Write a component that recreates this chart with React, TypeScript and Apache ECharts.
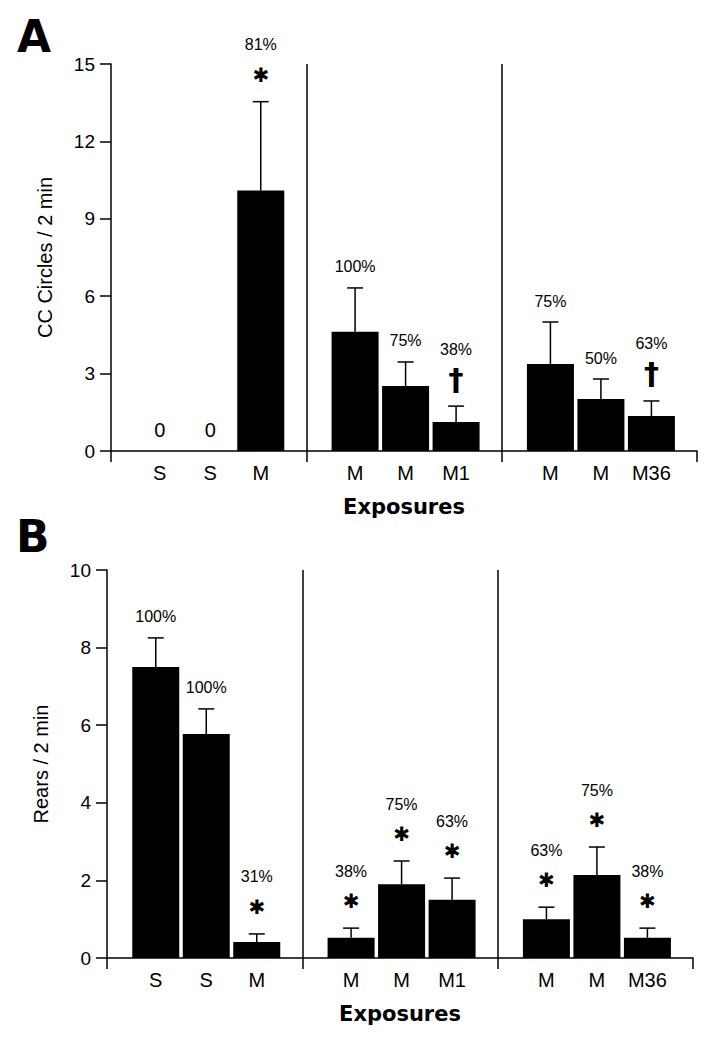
import React, { useEffect, useRef } from "react";
import * as echarts from "echarts";

// ---------- data ----------
const groupCategories: string[][] = [
  ["S", "S", "M"],
  ["M", "M", "M1"],
  ["M", "M", "M36"],
];

// Panel A: CC Circles / 2 min
const circlesMean: number[][] = [
  [0, 0, 10.1],
  [4.62, 2.52, 1.12],
  [3.37, 2.02, 1.36],
];
const circlesErrTop: (number | null)[][] = [
  [null, null, 13.54],
  [6.32, 3.45, 1.74],
  [5.0, 2.79, 1.94],
];
const circlesPct: string[][] = [
  ["0", "0", "81%"],
  ["100%", "75%", "38%"],
  ["75%", "50%", "63%"],
];
const circlesMark: string[][] = [
  ["", "", "*"],
  ["", "", "†"],
  ["", "", "†"],
];
const circlesTicks = { min: 0, max: 15, interval: 3 };

// Panel B: Rears / 2 min
const rearsMean: number[][] = [
  [7.5, 5.77, 0.41],
  [0.52, 1.9, 1.5],
  [1.0, 2.14, 0.52],
];
const rearsErrTop: (number | null)[][] = [
  [8.25, 6.42, 0.62],
  [0.77, 2.5, 2.06],
  [1.31, 2.86, 0.77],
];
const rearsPct: string[][] = [
  ["100%", "100%", "31%"],
  ["38%", "75%", "63%"],
  ["63%", "75%", "38%"],
];
const rearsMark: string[][] = [
  ["", "", "*"],
  ["*", "*", "*"],
  ["*", "*", "*"],
];
const rearsTicks = { min: 0, max: 10, interval: 2 };

// ---------- styling ----------
const FONT = "'Liberation Sans', Arial, Helvetica, sans-serif";
const HEAVY = "'DejaVu Sans', 'Liberation Sans', sans-serif";

type PanelDef = {
  left: number;
  top: number;
  width: number;
  height: number;
  yName: string;
  ticks: { min: number; max: number; interval: number };
  means: number[][];
  errs: (number | null)[][];
  pcts: string[][];
  marks: string[][];
};

const panels: PanelDef[] = [
  {
    left: 111, top: 64, width: 586, height: 387,
    yName: "CC Circles / 2 min", ticks: circlesTicks,
    means: circlesMean, errs: circlesErrTop, pcts: circlesPct, marks: circlesMark,
  },
  {
    left: 107, top: 570, width: 586, height: 388,
    yName: "Rears / 2 min", ticks: rearsTicks,
    means: rearsMean, errs: rearsErrTop, pcts: rearsPct, marks: rearsMark,
  },
];

const GROUP_PAD = 23.5;
const GROUP_BARS_W = 151.5;
const BAR_W = 47;

function buildOption() {
  const grid: any[] = [];
  const xAxis: any[] = [];
  const yAxis: any[] = [];
  const series: any[] = [];

  panels.forEach((p) => {
    const frameIdx = grid.length;
    grid.push({ left: p.left, top: p.top, width: p.width, height: p.height });
    xAxis.push({
      type: "category",
      gridIndex: frameIdx,
      data: ["", "", ""],
      boundaryGap: true,
      axisLine: { show: true, lineStyle: { color: "#000", width: 1.5 } },
      axisTick: { show: true, length: 11, lineStyle: { color: "#000", width: 1.5 } },
      axisLabel: { show: false },
      splitLine: {
        show: true,
        showMinLine: false,
        showMaxLine: false,
        lineStyle: { color: "#000", width: 1.5, type: "solid" },
      },
      name: "Exposures",
      nameLocation: "middle",
      nameGap: 45,
      nameTextStyle: { fontFamily: HEAVY, fontWeight: "bold", fontSize: 21, color: "#000" },
    });
    yAxis.push({
      type: "value",
      gridIndex: frameIdx,
      min: p.ticks.min,
      max: p.ticks.max,
      interval: p.ticks.interval,
      axisLine: { show: true, lineStyle: { color: "#000", width: 1.5 } },
      axisTick: { show: true, length: 11, lineStyle: { color: "#000", width: 1.5 } },
      axisLabel: { fontFamily: FONT, fontSize: 19, color: "#000", margin: 16 },
      splitLine: { show: false },
      name: p.yName,
      nameLocation: "middle",
      nameGap: 56,
      nameTextStyle: { fontFamily: FONT, fontSize: 20, color: "#000" },
    });

    const groupW = p.width / 3;
    for (let g = 0; g < 3; g++) {
      const idx = grid.length;
      grid.push({
        left: p.left + g * groupW + GROUP_PAD,
        top: p.top,
        width: GROUP_BARS_W,
        height: p.height,
      });
      xAxis.push({
        type: "category",
        gridIndex: idx,
        data: groupCategories[g],
        axisLine: { show: false },
        axisTick: { show: false },
        axisLabel: {
          fontFamily: FONT,
          fontSize: 20,
          color: "#000",
          margin: 12,
          interval: 0,
          hideOverlap: false,
        },
        splitLine: { show: false },
      });
      yAxis.push({
        type: "value",
        gridIndex: idx,
        min: p.ticks.min,
        max: p.ticks.max,
        interval: p.ticks.interval,
        show: false,
        splitLine: { show: false },
      });
      const means = p.means[g];
      const errs = p.errs[g];
      const pcts = p.pcts[g];
      const marks = p.marks[g];
      series.push({
        type: "bar",
        xAxisIndex: idx,
        yAxisIndex: idx,
        data: means,
        barWidth: BAR_W,
        itemStyle: { color: "#000" },
        z: 3,
      });
      series.push({
        type: "custom",
        xAxisIndex: idx,
        yAxisIndex: idx,
        data: means.map((m, i) => [i, m]),
        clip: false,
        z: 4,
        renderItem: (params: any, api: any) => {
          const i = params.dataIndex;
          const base = api.coord([i, means[i]]);
          const children: any[] = [];
          const err = errs[i];
          let anchorY = base[1];
          const hasErr = err !== null && err !== undefined;
          if (hasErr) {
            const top = api.coord([i, err as number]);
            anchorY = top[1];
            children.push({
              type: "line",
              shape: { x1: base[0], y1: base[1], x2: base[0], y2: top[1] },
              style: { stroke: "#000", lineWidth: 1.5 },
            });
            children.push({
              type: "line",
              shape: { x1: base[0] - 8, y1: top[1], x2: base[0] + 8, y2: top[1] },
              style: { stroke: "#000", lineWidth: 1.5 },
            });
          }
          const mark = marks[i];
          if (mark) {
            const isStar = mark === "*";
            children.push({
              type: "text",
              x: base[0],
              y: anchorY - 27,
              style: {
                text: isStar ? "✱" : "†",
                fontFamily: HEAVY,
                fontWeight: "bold",
                fontSize: isStar ? 20 : 30,
                fill: "#000",
                align: "center",
                verticalAlign: "middle",
              },
            });
            children.push({
              type: "text",
              x: base[0],
              y: anchorY - 57,
              style: {
                text: pcts[i],
                fontFamily: FONT,
                fontSize: 16,
                fill: "#000",
                align: "center",
                verticalAlign: "middle",
              },
            });
          } else if (pcts[i]) {
            const isCount = !hasErr;
            children.push({
              type: "text",
              x: base[0],
              y: anchorY - 21,
              style: {
                text: pcts[i],
                fontFamily: FONT,
                fontSize: isCount ? 20 : 16,
                fill: "#000",
                align: "center",
                verticalAlign: "middle",
              },
            });
          }
          return { type: "group", children };
        },
      });
    }
  });

  return {
    animation: false,
    backgroundColor: "#fff",
    textStyle: { fontFamily: FONT, color: "#000" },
    grid,
    xAxis,
    yAxis,
    series,
    graphic: [
      {
        type: "text",
        left: 17,
        top: 14,
        style: { text: "A", fontFamily: HEAVY, fontWeight: "bold", fontSize: 44, fill: "#000" },
      },
      {
        type: "text",
        left: 16,
        top: 514,
        style: { text: "B", fontFamily: HEAVY, fontWeight: "bold", fontSize: 44, fill: "#000" },
      },
    ],
  };
}

export default function App() {
  const ref = useRef<HTMLDivElement>(null);
  useEffect(() => {
    if (!ref.current) return;
    const chart = echarts.init(ref.current, undefined, { renderer: "svg" });
    chart.setOption(buildOption() as any);
    return () => chart.dispose();
  }, []);
  return (
    <div
      ref={ref}
      style={{ position: "absolute", left: 0, top: 0, width: 713, height: 1050, background: "#fff" }}
    />
  );
}
